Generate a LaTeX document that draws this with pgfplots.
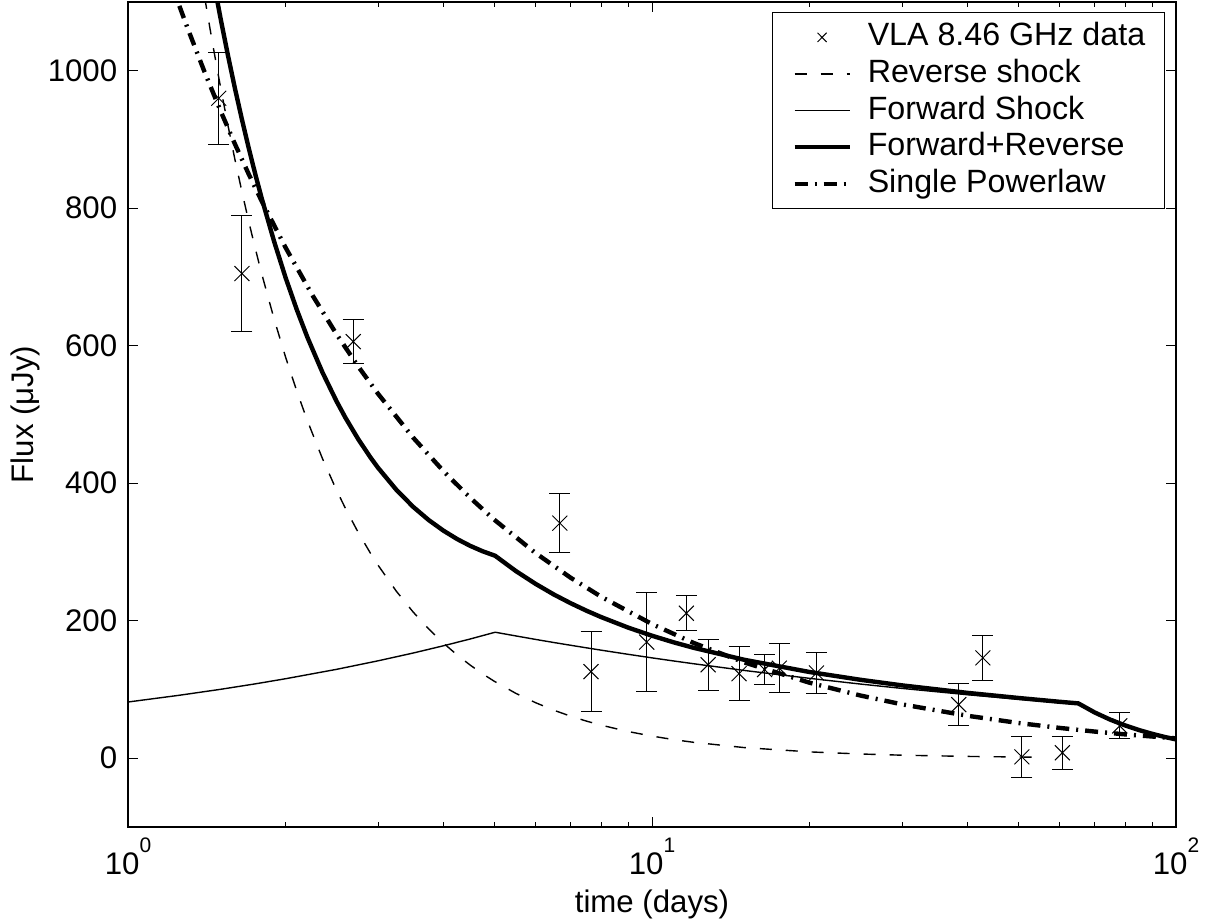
\documentclass[border=0pt]{standalone}
\usepackage{fontspec}
\setmainfont{Liberation Sans}
\usepackage{pgfplots}
\pgfplotsset{compat=1.18}
\newcommand{\supn}[1]{10\raisebox{11pt}{\fontsize{10.5}{12}\selectfont #1}}
\begin{document}
\fontsize{15.6}{19}\selectfont
\begin{tikzpicture}
\begin{axis}[
  scale only axis, width=524pt, height=412.5pt,
  xmode=log, xmin=1, xmax=100, ymin=-100, ymax=1100,
  ytick={0,200,400,600,800,1000},
  xtick={1,10,100},
  minor xtick={2,3,4,5,6,7,8,9,20,30,40,50,60,70,80,90},
  xticklabels={{\supn{0}},{\supn{1}},{\supn{2}}},
  tick align=inside,
  major tick length=5pt, minor tick length=2.5pt,
  axis line style={line width=0.6pt},
  every tick/.style={black, line width=0.5pt},
  /pgf/number format/assume math mode=true,
  /pgf/number format/1000 sep={},
  font=\fontsize{15.6}{19}\selectfont,
  xlabel={time (days)}, ylabel={Flux (μJy)},
  xlabel style={at={(axis description cs:0.5,-0.0933)}, anchor=center},
  ylabel style={at={(axis description cs:-0.0983,0.5)}, anchor=center},
  legend style={at={(0.9895,0.9879)}, anchor=north east, draw=black, line width=0.6pt,
    inner xsep=4.6pt, inner ysep=3.25pt, row sep=0pt,
    nodes={inner xsep=5pt, inner ysep=1.95pt, text height=11.5pt, text depth=2.9pt},
    font=\fontsize{16.1}{19}\selectfont},
  legend cell align=left,
  legend image code/.code={\path (-5.4pt,0pt) (30.5pt,0pt); \draw[#1] (0pt,0pt) -- (27.5pt,0pt);},
]
\addlegendimage{legend image code/.code={\path (-5.4pt,0pt) (30.5pt,0pt); \draw[line width=0.5pt] (11.5pt,-2.3pt) -- (16pt,2.3pt) (11.5pt,2.3pt) -- (16pt,-2.3pt);}}
\addlegendentry{VLA 8.46 GHz data}

% Reverse shock
\addplot[black, line width=0.7pt, dash pattern=on 6pt off 7pt] coordinates {
(1.35,1182) (1.4,1107.6) (1.45,1039.7) (1.5,978.2) (1.55,922.2) (1.6,870.8) (1.65,824.0)
(1.7,780.8) (1.75,741.1) (1.8,704.5) (1.9,639.2) (2.0,582.8) (2.1,533.8) (2.2,490.9)
(2.35,435.9) (2.5,390.0) (2.6,363.4) (2.75,328.5) (2.9,298.6) (3,280.9) (3.25,243.2)
(3.5,212.8) (3.75,188.0) (4,167.4) (4.25,150.1) (4.5,135.4) (4.75,122.8) (5,112)
(5.5,94.3) (6,80.7) (6.5,69.8) (7,61.1) (7.5,54.0) (8,48.1) (9,38.9) (10,32.2) (11,27.1)
(12,23.2) (15,15.5) (20,9.24) (25,6.18) (30,4.45) (40,2.65) (54,1.55)};
\addlegendentry{Reverse shock}

% Forward shock
\addplot[black, line width=0.7pt] coordinates {
(1,81.8) (1.25,91.5) (1.5,100.2) (1.75,108.2) (2,115.7) (2.5,129.3) (3,141.7) (3.5,153.0)
(4,163.6) (4.5,173.5) (5.02,183.3) (5.5,177.9) (6,172.8) (6.5,168.3) (7,164.3) (7.5,160.6)
(8,157.2) (9,151.2) (10,146.0) (11,141.5) (12,137.5) (15,127.7) (20,116.2) (25,107.9)
(30,101.6) (40,92.4) (50,85.9) (60,80.8) (65.1,78.7) (70,65.6) (75,55.2) (80,47.0)
(85,40.4) (90,35.0) (95,30.6) (100,26.9)};
\addlegendentry{Forward Shock}

% Forward + Reverse
\addplot[black, line width=2.2pt] coordinates {
(1.35,1277) (1.4,1204.4) (1.45,1138.2) (1.5,1078.4) (1.55,1024.0) (1.6,974.3) (1.65,929.1)
(1.7,887.5) (1.75,849.3) (1.8,814.2) (1.9,752.0) (2,698.5) (2.1,652.3) (2.2,612.2)
(2.35,561.3) (2.5,519.3) (2.6,495.3) (2.75,464.2) (2.9,437.9) (3,422.6) (3.25,390.7)
(3.5,365.8) (3.75,346.4) (4,331.0) (4.25,318.7) (4.5,308.9) (4.75,301.1) (5.02,294.5)
(5.5,272.2) (6,253.5) (6.5,238.1) (7,225.4) (7.5,214.6) (8,205.3) (9,190.1) (10,178.2)
(11,168.6) (12,160.7) (15,143.2) (20,125.4) (25,114.1) (30,106.0) (40,95.1) (50,87.7)
(60,82.1) (65.1,79.8) (70,66.5) (75,56.0) (80,47.7) (85,41.0) (90,35.6) (95,31.1) (100,27.4)};
\addlegendentry{Forward+Reverse}

% Single powerlaw
\addplot[black, line width=2.2pt, dash pattern=on 6.5pt off 3.5pt on 1pt off 3.5pt] coordinates {
(1.2,1134) (1.25,1096.6) (1.3,1061.5) (1.4,998.2) (1.5,942.6) (1.6,893.4) (1.7,849.6)
(1.8,810.2) (2,742.4) (2.25,673.2) (2.5,616.8) (2.75,569.9) (3,530.2) (3.5,466.5)
(4,417.6) (4.5,378.7) (5,347) (6,298.3) (7,262.4) (8,234.9) (10,195.2) (12,167.8)
(15,139.4) (20,109.8) (25,91.2) (30,78.4) (40,61.8) (50,51.3) (60,44.1) (70,38.8)
(80,34.7) (100,28.9)};
\addlegendentry{Single Powerlaw}

% Data
\addplot[black, only marks, mark=x, mark size=5.3pt, mark options={line width=0.5pt},
  error bars/.cd, y dir=both, y explicit,
  error bar style={line width=0.5pt},
  error mark options={rotate=90, line width=0.5pt, mark size=5.25pt}] coordinates {
(1.49,960) +- (0,67)
(1.65,705) +- (0,85)
(2.69,606) +- (0,32)
(6.67,342) +- (0,43)
(7.65,126) +- (0,58)
(9.77,169) +- (0,72)
(11.63,211) +- (0,25)
(12.8,136) +- (0,37)
(14.66,123) +- (0,39)
(16.4,129) +- (0,22)
(17.5,131) +- (0,36)
(20.6,124) +- (0,30)
(38.5,78) +- (0,31)
(42.8,146) +- (0,33)
(50.8,2) +- (0,30)
(60.7,8) +- (0,24)
(78.1,47) +- (0,19)};
\end{axis}
\pgfresetboundingbox
\path[use as bounding box] ([shift={(-64pt,-47pt)}]current axis.south west) rectangle ([shift={(17.5pt,1pt)}]current axis.north east);
\end{tikzpicture}
\end{document}
